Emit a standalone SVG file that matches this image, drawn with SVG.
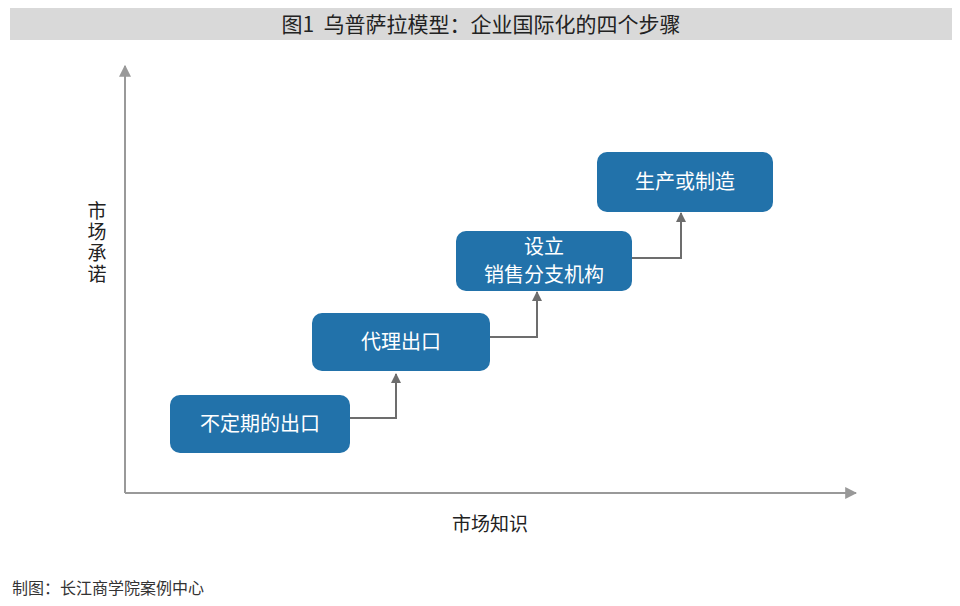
<svg xmlns="http://www.w3.org/2000/svg" width="960" height="606" viewBox="0 0 960 606">
<style>
text{font-family:"Noto Sans CJK SC","Noto Sans",sans-serif;}
.box{fill:#2272aa;}
.bt{fill:#fff;font-size:20px;text-anchor:middle;}
.ln{stroke:#6d6d6d;stroke-width:2;fill:none;}
.ax{stroke:#999;stroke-width:2;fill:none;}
</style>
<defs>
<marker id="ah" viewBox="0 0 10 10" refX="9" refY="5" markerWidth="5" markerHeight="5" orient="auto"><path d="M0,0L10,5L0,10z" fill="#6d6d6d"/></marker>
<marker id="aa" viewBox="0 0 10 10" refX="9" refY="5" markerWidth="6" markerHeight="6" orient="auto"><path d="M0,0L10,5L0,10z" fill="#999"/></marker>
</defs>
<rect width="960" height="606" fill="#fff"/>
<rect x="10" y="8" width="942" height="32" fill="#d9d9d9"/>
<text x="481" y="32" font-size="21" text-anchor="middle" fill="#222" xml:space="preserve">图1  乌普萨拉模型：企业国际化的四个步骤</text>
<g id="axes">
<path class="ax" d="M125,493V66" marker-end="url(#aa)"/>
<path class="ax" d="M125,493H856" marker-end="url(#aa)"/>
<text x="97" y="201" font-size="19" fill="#222" letter-spacing="2" style="writing-mode:vertical-rl;text-orientation:upright">市场承诺</text>
<text x="490" y="531" font-size="19" text-anchor="middle" fill="#222">市场知识</text>
</g>
<g id="connectors">
<path class="ln" d="M350,418H396V374" marker-end="url(#ah)"/>
<path class="ln" d="M490,337H537V292" marker-end="url(#ah)"/>
<path class="ln" d="M632,258H681V213" marker-end="url(#ah)"/>
</g>
<g id="n1"><rect class="box" x="170" y="395" width="180" height="58" rx="10"/><text class="bt" x="260" y="431">不定期的出口</text></g>
<g id="n2"><rect class="box" x="312" y="313" width="178" height="58" rx="10"/><text class="bt" x="401" y="349">代理出口</text></g>
<g id="n3"><rect class="box" x="456" y="231" width="176" height="60" rx="10"/><text class="bt" x="544" y="254" font-size="19">设立</text><text class="bt" x="544" y="282" font-size="19">销售分支机构</text></g>
<g id="n4"><rect class="box" x="597" y="152" width="176" height="60" rx="10"/><text class="bt" x="685" y="189">生产或制造</text></g>
<text x="12" y="594" font-size="16" fill="#333">制图：长江商学院案例中心</text>
</svg>
